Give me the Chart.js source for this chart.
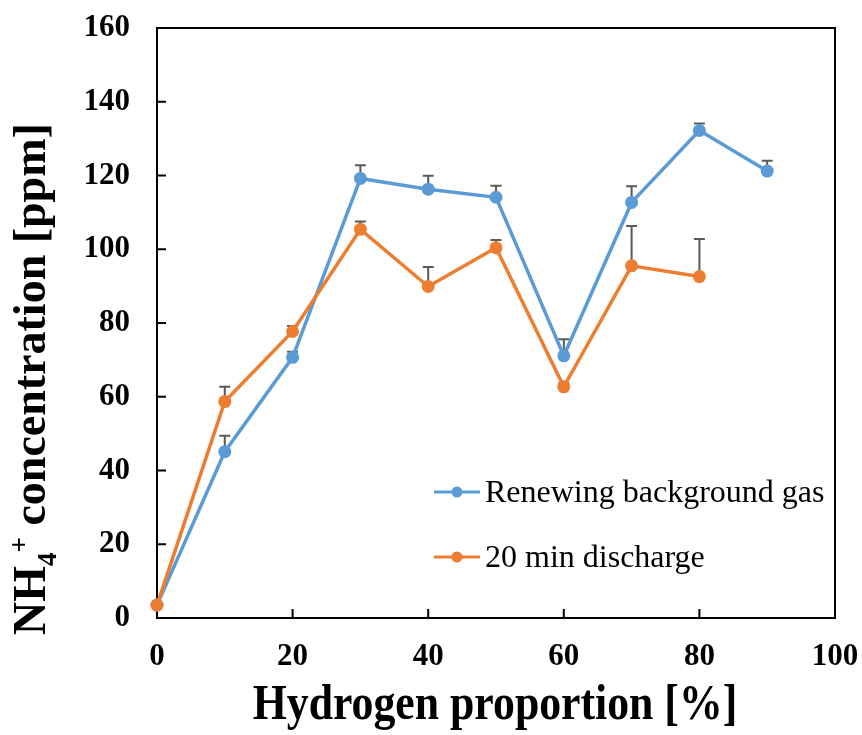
<!DOCTYPE html>
<html>
<head>
<meta charset="utf-8">
<script src="https://cdn.jsdelivr.net/npm/chart.js@4.4.1/dist/chart.umd.min.js"></script>
<style>
  body { margin: 0; background: #fff; }
  #wrap { width: 862px; height: 735px; }
</style>
</head>
<body>
<div id="wrap"><canvas id="nh4Chart" width="862" height="735"></canvas></div>
<script>
const serif = "'Liberation Serif', 'Times New Roman', serif";

// Hydrogen proportion [%]
const proportions = [0, 10, 20, 30, 40, 50, 60, 70, 80, 90];

// NH4+ concentration [ppm] and upper error bars
const renewing    = [3.5, 45.1, 70.7, 119.2, 116.3, 114.1, 71.1, 112.7, 132.2, 121.2];
const renewingErr = [0, 4.3, 1.5, 3.6, 3.6, 3.1, 4.5, 4.4, 1.9, 2.8];
const discharge    = [3.5, 58.7, 77.7, 105.4, 89.9, 100.4, 62.7, 95.5, 92.6];
const dischargeErr = [0, 4.0, 1.5, 2.1, 5.3, 2.1, 1.0, 10.8, 10.2];

const xTickValues = [0, 20, 40, 60, 80, 100];
const yTickValues = [0, 20, 40, 60, 80, 100, 120, 140, 160];

const toPoints = vals => vals.map((v, i) => ({ x: proportions[i], y: v }));

// error bars, inward ticks, frame, titles and legend
const decor = {
  id: 'decor',
  beforeDatasetsDraw(chart) {
    const { ctx, scales: { x, y } } = chart;
    ctx.save();
    ctx.strokeStyle = '#595959';
    ctx.lineWidth = 2;
    chart.data.datasets.forEach(ds => {
      ds.data.forEach((pt, i) => {
        const err = ds.errors[i];
        if (!err) return;
        const px = x.getPixelForValue(pt.x);
        const y0 = y.getPixelForValue(pt.y);
        const y1 = y.getPixelForValue(pt.y + err);
        ctx.beginPath();
        ctx.moveTo(px, y0);
        ctx.lineTo(px, y1);
        ctx.moveTo(px - 5.5, y1);
        ctx.lineTo(px + 5.5, y1);
        ctx.stroke();
      });
    });
    ctx.restore();
  },
  afterDraw(chart) {
    const { ctx, chartArea: a, scales: { x, y } } = chart;
    ctx.save();
    ctx.strokeStyle = '#000';
    ctx.lineWidth = 2;
    ctx.beginPath();
    ctx.moveTo(a.left - 1, a.top);
    ctx.lineTo(a.right, a.top);
    ctx.lineTo(a.right, a.bottom + 1);
    yTickValues.slice(1, -1).forEach(v => {
      const py = y.getPixelForValue(v);
      ctx.moveTo(a.left, py);
      ctx.lineTo(a.left + 9, py);
    });
    xTickValues.slice(1, -1).forEach(v => {
      const px = x.getPixelForValue(v);
      ctx.moveTo(px, a.bottom);
      ctx.lineTo(px, a.bottom - 9);
    });
    ctx.stroke();

    ctx.fillStyle = '#000';
    ctx.textAlign = 'left';
    ctx.textBaseline = 'alphabetic';

    // x title, slightly condensed
    ctx.save();
    ctx.translate(495, 719);
    ctx.scale(0.875, 1);
    ctx.textAlign = 'center';
    ctx.font = 'bold 50px ' + serif;
    ctx.fillText('Hydrogen proportion [%]', 0, 0);
    ctx.restore();

    // y title with subscript / superscript
    ctx.save();
    ctx.translate(45, 635);
    ctx.rotate(-Math.PI / 2);
    const runs = [
      { t: 'NH', size: 46, dy: 0 },
      { t: '4', size: 27, dy: 11 },
      { t: '+', size: 27, dy: -17 },
      { t: ' concentration [ppm]', size: 46, dy: 0 }
    ];
    let cx = 0;
    runs.forEach(r => {
      ctx.font = 'bold ' + r.size + 'px ' + serif;
      ctx.fillText(r.t, cx, r.dy);
      cx += ctx.measureText(r.t).width;
    });
    ctx.restore();

    // legend
    const rows = [492, 557];
    chart.data.datasets.forEach((ds, i) => {
      const ly = rows[i];
      ctx.strokeStyle = ds.borderColor;
      ctx.lineWidth = 3;
      ctx.beginPath();
      ctx.moveTo(434, ly);
      ctx.lineTo(480, ly);
      ctx.stroke();
      ctx.fillStyle = ds.backgroundColor;
      ctx.beginPath();
      ctx.arc(457, ly, 5.5, 0, Math.PI * 2);
      ctx.fill();
      ctx.fillStyle = '#000';
      ctx.font = '32px ' + serif;
      ctx.fillText(ds.label, 485, ly + 10);
    });
    ctx.restore();
  }
};

new Chart(document.getElementById('nh4Chart'), {
  type: 'scatter',
  data: {
    datasets: [
      {
        label: 'Renewing background gas',
        data: toPoints(renewing),
        errors: renewingErr,
        showLine: true,
        borderColor: '#5B9BD5',
        backgroundColor: '#5B9BD5',
        borderWidth: 3.5,
        pointRadius: 6.5,
        pointBorderWidth: 0,
        clip: false,
        order: 2
      },
      {
        label: '20 min discharge',
        data: toPoints(discharge),
        errors: dischargeErr,
        showLine: true,
        borderColor: '#ED7D31',
        backgroundColor: '#ED7D31',
        borderWidth: 3.5,
        pointRadius: 6.5,
        pointBorderWidth: 0,
        clip: false,
        order: 1
      }
    ]
  },
  options: {
    responsive: false,
    animation: false,
    layout: { padding: { top: 28, right: 27, left: 0, bottom: 0 } },
    plugins: {
      legend: { display: false },
      tooltip: { enabled: false }
    },
    scales: {
      x: {
        type: 'linear',
        min: 0,
        max: 100,
        afterFit: s => { s.height = 117; s.paddingLeft = 0; s.paddingRight = 0; },
        afterBuildTicks: s => { s.ticks = xTickValues.map(v => ({ value: v })); },
        grid: { display: false, drawTicks: false },
        border: { display: true, color: '#000', width: 2 },
        ticks: {
          padding: 20,
          color: '#000',
          font: { family: serif, size: 31, weight: 'bold' }
        }
      },
      y: {
        min: 0,
        max: 160,
        afterFit: s => { s.width = 157; s.paddingTop = 0; s.paddingBottom = 0; },
        afterBuildTicks: s => { s.ticks = yTickValues.map(v => ({ value: v })); },
        grid: { display: false, drawTicks: false },
        border: { display: true, color: '#000', width: 2 },
        ticks: {
          padding: 27,
          color: '#000',
          font: { family: serif, size: 31, weight: 'bold' }
        }
      }
    }
  },
  plugins: [decor]
});
</script>
</body>
</html>
